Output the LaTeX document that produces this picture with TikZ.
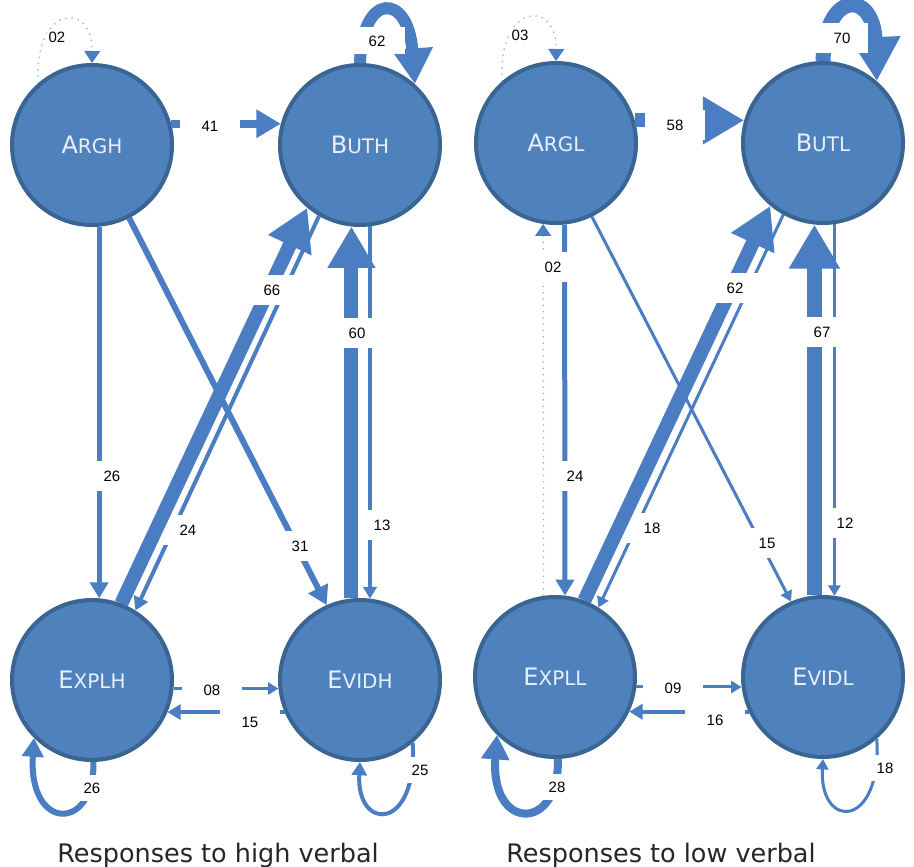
\documentclass[tikz,border=0pt]{standalone}
\usepackage{fontspec}
\usetikzlibrary{arrows.meta}
\newfontfamily\nodefont{DejaVu Sans}
\newfontfamily\labfont{Liberation Sans}
\newfontfamily\titlefont{DejaVu Sans}
\definecolor{nodefill}{HTML}{4F81BD}
\definecolor{nodeline}{HTML}{3A6491}
\definecolor{nodetext}{HTML}{E9EFF8}
\definecolor{edgec}{HTML}{4A7DC1}
% small-caps style state names: large initial, smaller rest
\newcommand{\capsname}[2]{{\fontsize{24pt}{24pt}\selectfont #1}{\fontsize{20pt}{20pt}\selectfont #2}}

\begin{document}
\begin{tikzpicture}[x=1pt,y=-1pt,
  state/.style={circle, minimum size=160pt, inner sep=0pt, line width=4pt,
    draw=nodeline, fill=nodefill, text=nodetext, font=\nodefont},
  flow/.style={draw=edgec, line width=#1, -{Triangle[length=2pt 2.8, width=3pt 3]}},
  dotflow/.style={draw=edgec!60, line width=1.3pt, dash pattern=on 1.3pt off 5pt,
    -{Triangle[length=12pt, width=16pt, color=edgec]}},
  lbl/.style={fill=white, inner sep=0pt, minimum width=60pt, minimum height=30pt,
    font=\labfont\fontsize{15pt}{17pt}\selectfont},
  lblloop/.style={lbl, minimum width=40pt, minimum height=26pt},
  lblsmall/.style={fill=white, inner sep=2pt, font=\labfont\fontsize{15pt}{17pt}\selectfont},
  caption/.style={font=\titlefont\fontsize{25.5pt}{27pt}\selectfont, text=black!85, anchor=base}
]
\useasboundingbox (0,0) rectangle (914,867);
\fill[white] (0,0) rectangle (914,867);

% ---------- high verbal panel ----------
\node[state] (ARGH)  at (92,145)  {\capsname{A}{RGH}};
\node[state] (BUTH)  at (360,145) {\capsname{B}{UTH}};
\node[state] (EXPLH) at (92,680)  {\capsname{E}{XPLH}};
\node[state] (EVIDH) at (360,680) {\capsname{E}{VIDH}};

\draw[dotflow] (ARGH.131) .. controls (33,5) and (93,0) .. (ARGH.90);
\node[lblsmall] (lAA) at (57,37) {02};
\draw[flow=8pt] (ARGH.15) -- (BUTH.165);
\node[lbl] (lAB) at (210,126) {41};
\draw[flow=12pt] (BUTH.90) .. controls (362,-8) and (408,-8) .. (BUTH.48);
\node[lbl, minimum width=56pt, minimum height=27pt] (lBB) at (377,41) {62};
\draw[flow=3pt] (EXPLH.-6) -- (EVIDH.186);
\node[lbl] (lXE) at (212,690) {08};
\draw[flow=4pt] (EVIDH.203) -- (EXPLH.-23);
\node[lbl] (lEX) at (250,722) {15};
\draw[flow=5pt] (ARGH.-85) -- (EXPLH.85);
\node[lbl] (lAX) at (112,476) {26};
\draw[flow=4pt] (BUTH.240) -- (EXPLH.58);
\node[lbl] (lBX) at (188,530) {24};
\draw[flow=6pt] (ARGH.-63) -- (EVIDH.114);
\node[lbl] (lAE) at (300,546) {31};
\draw[flow=14pt] (EXPLH.69) -- (BUTH.230);
\node[lbl] (lXB) at (272,290) {66};
\draw[flow=3.5pt] (BUTH.277) -- (EVIDH.83);
\node[lbl] (lBE) at (382,525) {13};
\draw[flow=14pt] (EVIDH.96) -- (BUTH.264);
\node[lbl] (lEB) at (357,333) {60};
\draw[flow=6pt] (EXPLH.-89) .. controls (95,832) and (28,832) .. (EXPLH.225);
\node[lblloop] (lXX) at (92,788) {26};
\draw[flow=4pt] (EVIDH.-50) .. controls (418,832) and (356,832) .. (EVIDH.-90);
\node[lblloop] (lEE) at (420,770) {25};

\node[caption] (capH) at (218,862) {Responses to high verbal};

% ---------- low verbal panel ----------
\node[state] (ARGL)  at (556,143) {\capsname{A}{RGL}};
\node[state] (BUTL)  at (823,143) {\capsname{B}{UTL}};
\node[state] (EXPLL) at (555,677) {\capsname{E}{XPLL}};
\node[state] (EVIDL) at (823,677) {\capsname{E}{VIDL}};

\draw[dotflow] (ARGL.131) .. controls (497,3) and (557,-2) .. (ARGL.90);
\node[lblsmall] (mAA) at (520,35) {03};
\draw[flow=14pt] (ARGL.16) -- (BUTL.164);
\node[lbl] (mAB) at (675,125) {58};
\draw[flow=15pt] (BUTL.90) .. controls (825,-10) and (873,-10) .. (BUTL.49);
\node[lbl, minimum width=52pt, minimum height=30pt] (mBB) at (842,38) {70};
\draw[flow=3pt] (EXPLL.-7) -- (EVIDL.187);
\node[lbl] (mXE) at (673,688) {09};
\draw[flow=4pt] (EVIDL.205) -- (EXPLL.-25);
\node[lbl] (mEX) at (715,720) {16};
\draw[dotflow] (EXPLL.98) -- (ARGL.261);
\draw[flow=5pt] (ARGL.-84) -- (EXPLL.83);
\node[lbl] (mXA) at (553,267) {02};
\node[lbl] (mAX) at (575,476) {24};
\draw[flow=3pt] (BUTL.241) -- (EXPLL.58);
\node[lbl] (mBX) at (652,528) {18};
\draw[flow=3pt] (ARGL.-64) -- (EVIDL.113);
\node[lbl] (mAE) at (767,543) {15};
\draw[flow=14pt] (EXPLL.69) -- (BUTL.230);
\node[lbl] (mXB) at (735,288) {62};
\draw[flow=3pt] (BUTL.278) -- (EVIDL.82);
\node[lbl] (mBE) at (845,523) {12};
\draw[flow=15pt] (EVIDL.96) -- (BUTL.264);
\node[lbl] (mEB) at (822,332) {67};
\draw[flow=8pt] (EXPLL.-88) .. controls (560,832) and (490,832) .. (EXPLL.225);
\node[lblloop] (mXX) at (557,787) {28};
\draw[flow=3pt] (EVIDL.-49) .. controls (882,830) and (819,830) .. (EVIDL.-90);
\node[lblloop] (mEE) at (885,768) {18};

\node[caption] (capL) at (661,862) {Responses to low verbal};
\end{tikzpicture}
\end{document}
